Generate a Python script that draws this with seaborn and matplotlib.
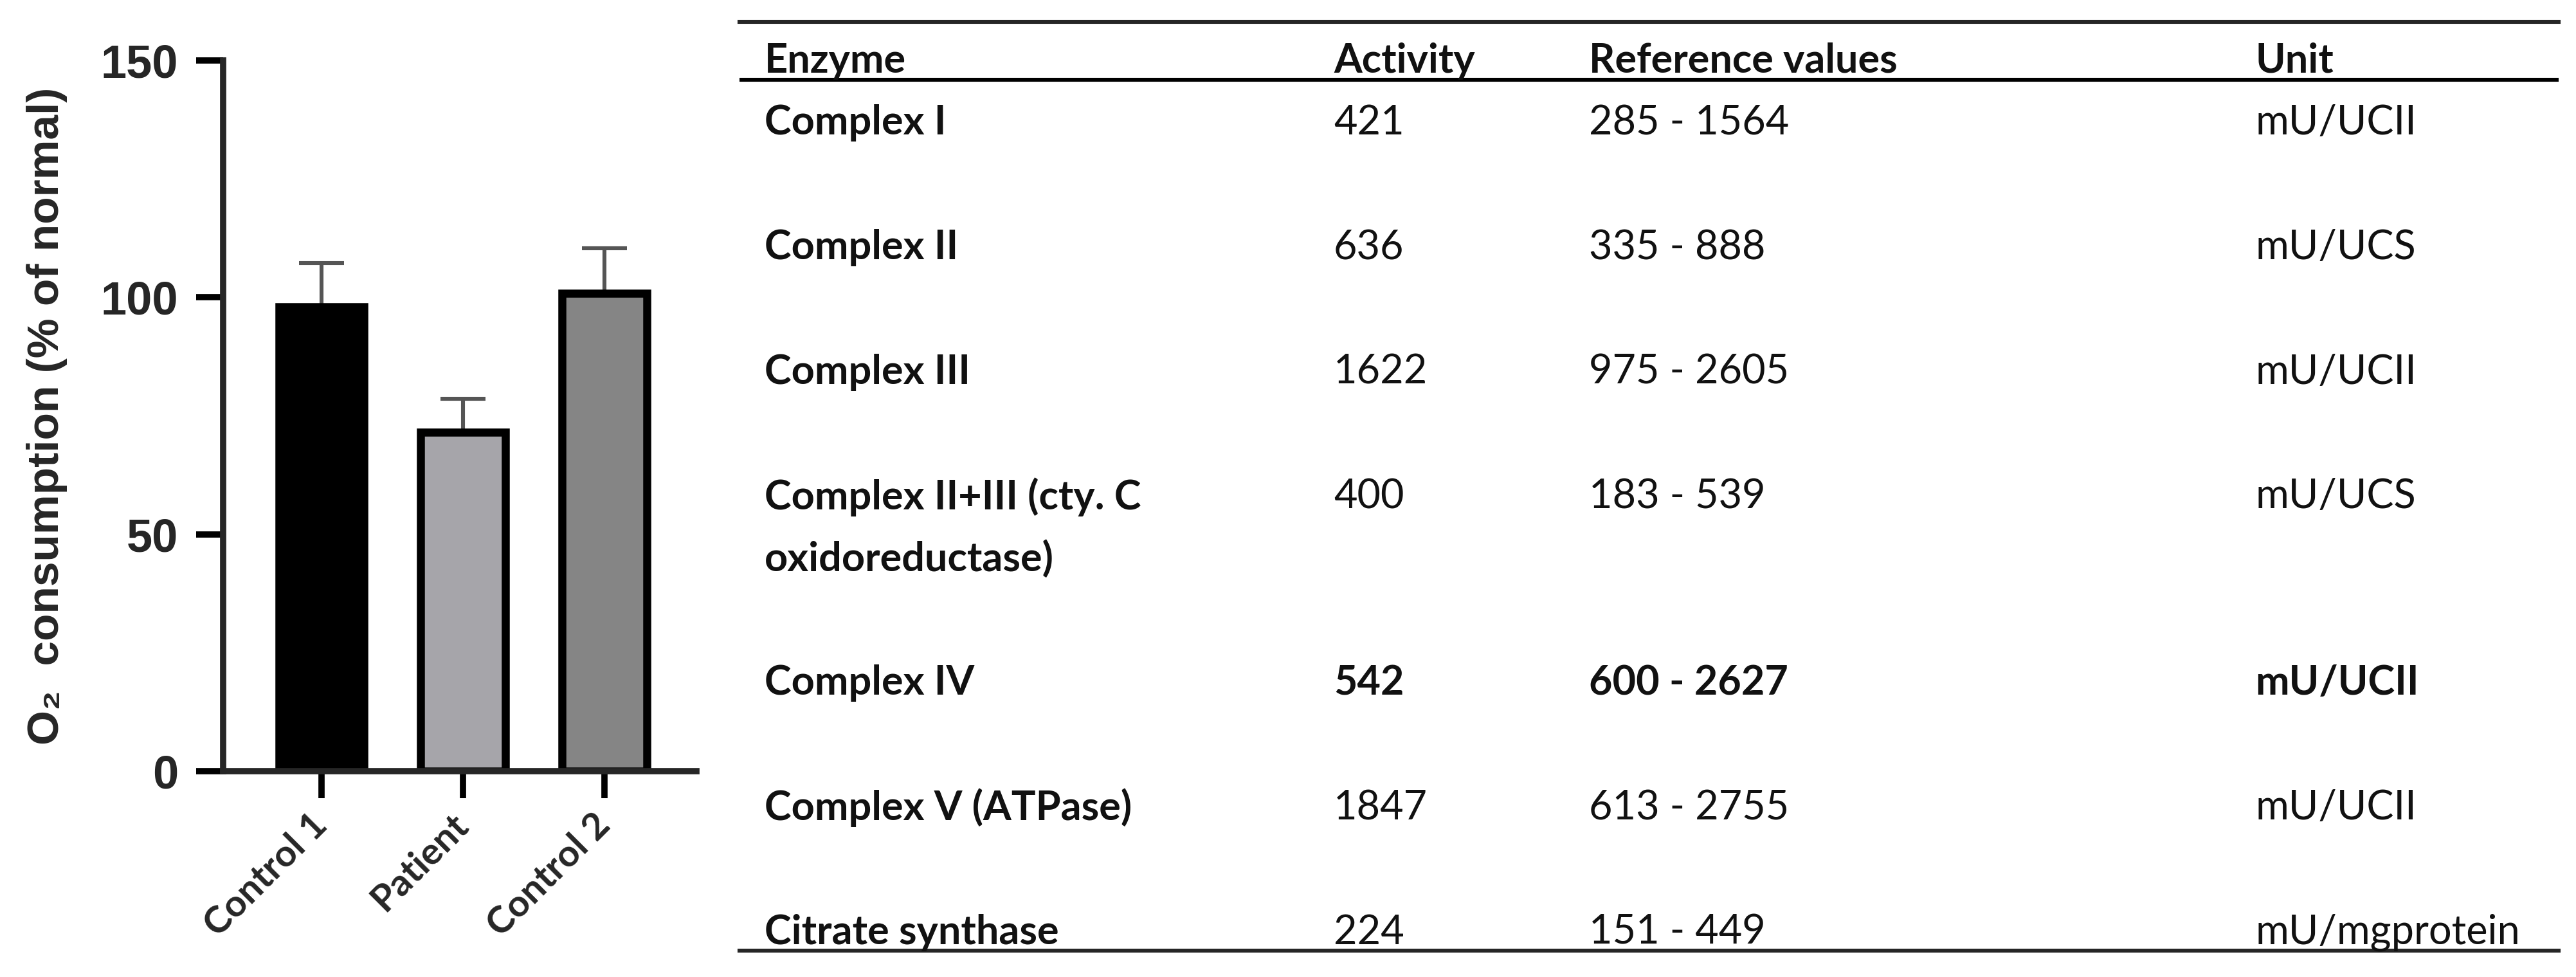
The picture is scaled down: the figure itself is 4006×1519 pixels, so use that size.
import numpy as np
import matplotlib
matplotlib.use("Agg")
import matplotlib.pyplot as plt
import seaborn as sns

# bar chart data
groups = ["Control 1", "Patient", "Control 2"]
o2_means = [98.0, 71.6, 100.9]
o2_sems = [9.2, 7.0, 9.5]
bar_colors = ["#000000", "#a6a5aa", "#858585"]

# enzyme table data
enzymes = ["Complex I", "Complex II", "Complex III",
           "Complex II+III (cty. C\noxidoreductase)", "Complex IV",
           "Complex V (ATPase)", "Citrate synthase"]
activity = [421, 636, 1622, 400, 542, 1847, 224]
ref_low = [285, 335, 975, 183, 600, 613, 151]
ref_high = [1564, 888, 2605, 539, 2627, 2755, 449]
units = ["mU/UCII", "mU/UCS", "mU/UCII", "mU/UCS", "mU/UCII", "mU/UCII", "mU/mgprotein"]
headers = ["Enzyme", "Activity", "Reference values", "Unit"]

sns.set_style("ticks")
plt.rcParams["font.family"] = ["Liberation Sans", "DejaVu Sans"]

DPI = 200
fig = plt.figure(figsize=(4006 / DPI, 1519 / DPI), dpi=DPI)

# ---- bar chart ----
ax = fig.add_axes([0.0866, 0.2107, 0.1837, 0.7274])
sns.barplot(x=groups, y=o2_means, hue=groups, palette=bar_colors, legend=False,
            edgecolor="black", linewidth=4.5, width=0.6, errorbar=None,
            saturation=1, ax=ax, zorder=2)
ax.errorbar(np.arange(len(groups)), o2_means,
            yerr=[np.zeros(len(groups)), o2_sems], fmt="none",
            ecolor="#555555", elinewidth=2.2, capsize=12.6, capthick=2.2, zorder=1)
ax.set_ylim(0, 150)
ax.set_xlim(-0.695, 2.65)
ax.set_yticks([0, 50, 100, 150])
sns.despine(ax=ax)
for s in ("left", "bottom"):
    ax.spines[s].set_linewidth(3.5)
ax.tick_params(axis="both", length=15, width=3.5, color="black")
ax.tick_params(axis="y", pad=10, labelsize=26)
ax.tick_params(axis="x", pad=12)
for lab in ax.get_yticklabels():
    lab.set_fontweight("bold")
ax.set_xticks(range(len(groups)))
ax.set_xticklabels(groups, rotation=45, ha="right", va="center",
                   rotation_mode="anchor", fontsize=21, fontweight="bold",
                   family=["Lato", "DejaVu Sans"])
ax.set_xlabel("")
ax.set_ylabel("O\u2082  consumption (% of normal)", fontsize=25, fontweight="bold")
ax.yaxis.set_label_coords(-0.329, 0.5)

# ---- enzyme table ----
tx = fig.add_axes([0.2871, 0.027, 0.7062, 0.9506])
tx.set_xlim(0, 1)
tx.set_ylim(14.35, -0.57)
tx.set_xticks([])
tx.set_yticks([])
for s in ("left", "right"):
    tx.spines[s].set_visible(False)
for s in ("top", "bottom"):
    tx.spines[s].set_linewidth(2.2)
tx.axhline(0.36, color="black", lw=2.2)
tx.patch.set_alpha(0)

col_x = [0.0138, 0.3266, 0.4670, 0.8332]
tfont = dict(family=["Lato", "DejaVu Sans"], fontsize=22.7, va="center_baseline", color="#111111")

for x, h in zip(col_x, headers):
    tx.text(x, 0, h, fontweight="bold", **tfont)

line = 1
for name, act, lo, hi, unit in zip(enzymes, activity, ref_low, ref_high, units):
    low_flag = act < lo
    w = "bold" if low_flag else "normal"
    name_lines = name.split("\n")
    for k, part in enumerate(name_lines):
        tx.text(col_x[0], line + k, part, fontweight="bold", **tfont)
    tx.text(col_x[1], line, str(act), fontweight=w, **tfont)
    tx.text(col_x[2], line, f"{lo} - {hi}", fontweight=w, **tfont)
    tx.text(col_x[3], line, unit, fontweight=w, **tfont)
    line += 2 if len(name_lines) == 1 else 3

fig.savefig("out.png", dpi=DPI)
